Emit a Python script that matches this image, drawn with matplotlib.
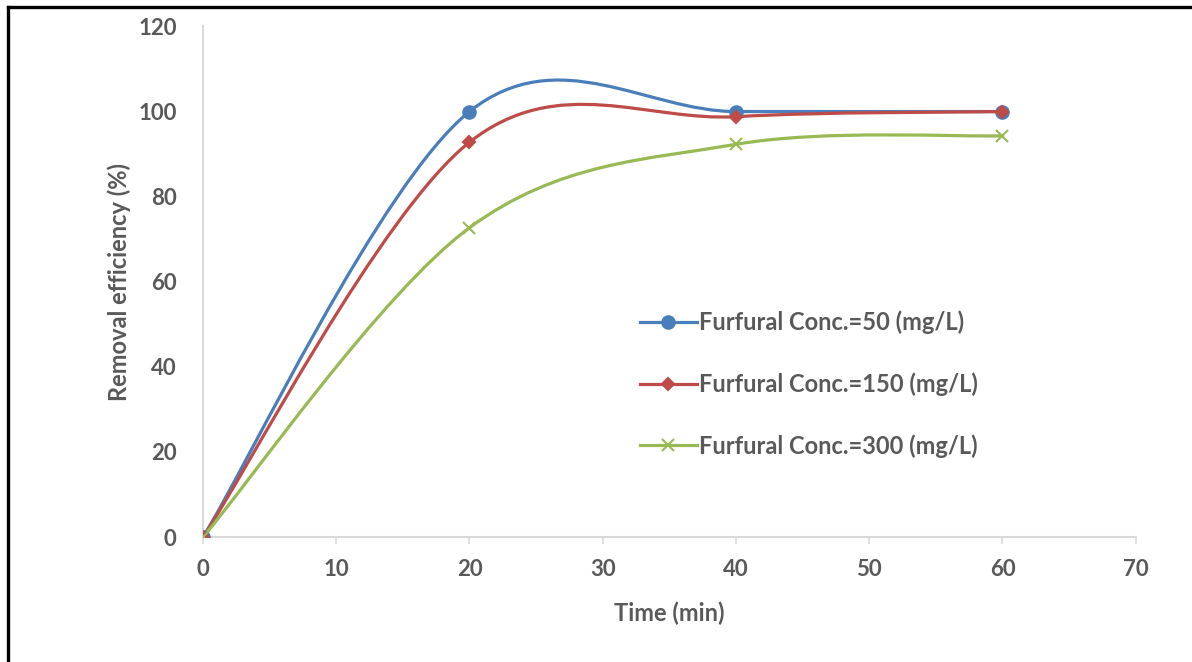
import numpy as np
import matplotlib.pyplot as plt
from matplotlib.path import Path
from matplotlib.patches import PathPatch
from matplotlib.lines import Line2D

plt.rcParams['font.family'] = ['Lato', 'DejaVu Sans']
plt.rcParams['font.weight'] = 'bold'

time_min = [0, 20, 40, 60]
eff_50 = [0, 100, 100, 100]
eff_150 = [0, 92.8, 98.8, 100]
eff_300 = [0, 72.7, 92.3, 94.3]

labels = ["Furfural Conc.=50 (mg/L)",
          "Furfural Conc.=150 (mg/L)",
          "Furfural Conc.=300 (mg/L)"]
colors = ["#4A7EBB", "#BE4B48", "#98B954"]
markers = ["o", "D", "x"]
msizes = [9, 6.5, 8.5]
txt = "#595959"


def smooth_path(x, y):
    # Excel-like smoothed line: cubic Bezier segments, Catmull-Rom style tangents
    p = np.column_stack([x, y]).astype(float)
    n = len(p)
    verts = [p[0]]
    codes = [Path.MOVETO]
    for i in range(n - 1):
        p0 = p[i - 1] if i > 0 else p[i]
        p1, p2 = p[i], p[i + 1]
        p3 = p[i + 2] if i + 2 < n else p[i + 1]
        c1 = p1 + (p2 - p0) / 6
        c2 = p2 - (p3 - p1) / 6
        verts += [c1, c2, p2]
        codes += [Path.CURVE4] * 3
    return Path(verts, codes)


fig = plt.figure(figsize=(11.92, 6.62), dpi=100)
ax = fig.add_axes([0.1703, 0.1888, 0.7825, 0.7712])

series = [eff_50, eff_150, eff_300]
handles = []
for ys, c, m, ms, lab in zip(series, colors, markers, msizes, labels):
    ax.add_patch(PathPatch(smooth_path(time_min, ys), fill=False,
                           edgecolor=c, lw=2.3, capstyle='round', zorder=2))
    ax.plot(time_min, ys, ls='none', marker=m, ms=ms, color=c,
            mec=c, mew=1.5, zorder=3)
    handles.append(Line2D([], [], color=c, lw=2.3, marker=m, ms=ms,
                          mec=c, mew=1.5, label=lab))

ax.set_xlim(0, 70)
ax.set_ylim(0, 120)
ax.set_xticks(np.arange(0, 71, 10))
ax.set_yticks(np.arange(0, 121, 20))

for s in ['top', 'right']:
    ax.spines[s].set_visible(False)
for s in ['left', 'bottom']:
    ax.spines[s].set_color('#D9D9D9')
    ax.spines[s].set_linewidth(1.5)

ax.tick_params(axis='x', length=5, width=1.2, color='#D9D9D9',
               labelsize=16, labelcolor=txt, pad=11)
ax.tick_params(axis='y', length=0, labelsize=16, labelcolor=txt, pad=19)

ax.set_xlabel("Time (min)", fontsize=17, color=txt, fontweight='bold',
              labelpad=15)
ax.set_ylabel("Removal efficiency (%)", fontsize=17, color=txt,
              fontweight='bold', labelpad=5)

leg = ax.legend(handles=handles, loc='center left',
                bbox_to_anchor=(0.4685, 0.2997), frameon=False,
                borderpad=0, borderaxespad=0,
                fontsize=17, labelspacing=1.62, handlelength=2.4,
                handletextpad=0.1, labelcolor=txt)

# outer frame (top and left edges visible)
fig.add_artist(Line2D([0.0063, 1.0], [0.990, 0.990], color='black',
                      lw=2.4, transform=fig.transFigure))
fig.add_artist(Line2D([0.0063, 0.0063], [0.0, 0.990], color='black',
                      lw=2.4, transform=fig.transFigure))

fig.savefig("out.png", dpi=100)
